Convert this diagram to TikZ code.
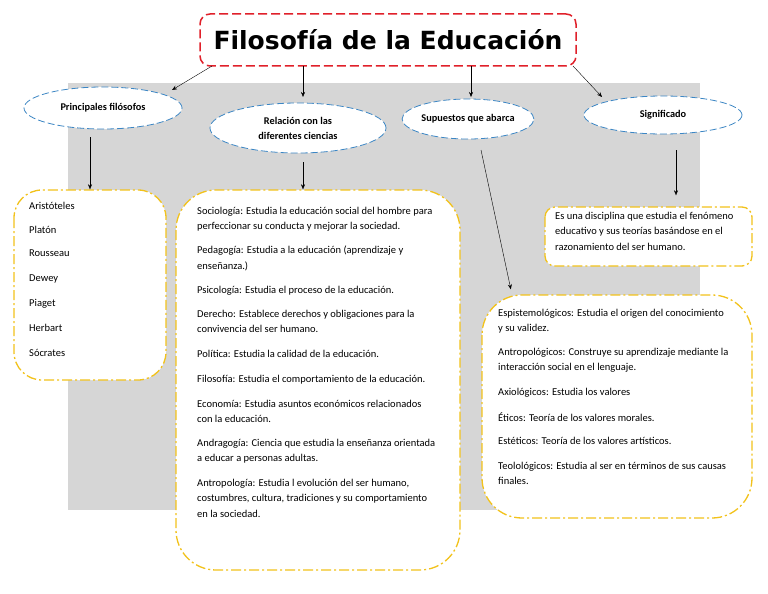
\documentclass[tikz,border=0pt]{standalone}
\usepackage{fontspec}
\setmainfont{Carlito}
\newfontfamily\titlefont{DejaVu Sans}
\usetikzlibrary{shapes.geometric,arrows.meta}
\definecolor{tred}{HTML}{E0202A}
\definecolor{eblue}{HTML}{3C86C4}
\definecolor{yel}{HTML}{F2C21B}
\definecolor{bg}{HTML}{D6D6D6}
\begin{document}
\begin{tikzpicture}[x=1pt,y=-1pt,
  ell/.style={ellipse,draw=eblue,thick,dash pattern=on 7pt off 3pt,fill=white,align=center,font=\fontsize{10.3}{15}\selectfont\bfseries,inner sep=0pt},
  ybox/.style={draw=yel,line width=1.3pt,dash pattern=on 10pt off 3pt on 2pt off 3pt,fill=white},
  txt/.style={anchor=north west,align=left,inner sep=0pt,font=\fontsize{10.5}{15.5}\selectfont},
  arr/.style={-{Stealth[length=5pt,width=4pt]},thin}]
\useasboundingbox (0,0) rectangle (768,594);
\fill[bg] (68,83) rectangle (700,510);
\node[draw=tred,line width=1.5pt,dash pattern=on 9pt off 4pt,rounded corners=10pt,fill=white,minimum width=376pt,minimum height=52pt,font=\titlefont\bfseries\fontsize{25}{28}\selectfont] (title) at (388,40) {Filosofía de la Educación};
\node[ell,minimum width=158pt,minimum height=42pt] (e1) at (103,108) {Principales filósofos};
\node[ell,minimum width=176pt,minimum height=50pt] (e2) at (298,128) {Relación con las\\diferentes ciencias};
\node[ell,minimum width=128pt,minimum height=40pt] (e3) at (468,119) {Supuestos que abarca};
\node[ell,minimum width=158pt,minimum height=38pt] (e4) at (663,115) {Significado};
\coordinate (t1) at (212,66); \coordinate (t1e) at (172,90);
\coordinate (t2) at (303,66); \coordinate (t2e) at (303,97);
\coordinate (t3) at (471,66); \coordinate (t3e) at (471,97);
\coordinate (t4) at (573,66); \coordinate (t4e) at (602,97);
\draw[arr] (t1) -- (t1e); \draw[arr] (t2) -- (t2e); \draw[arr] (t3) -- (t3e); \draw[arr] (t4) -- (t4e);
% boxes
\draw[ybox,rounded corners=28pt] (14,190) rectangle (166,380);
\node[inner sep=0pt] (b1) at (90,190) {};
\draw[ybox,rounded corners=40pt] (176,190) rectangle (460,570);
\node[inner sep=0pt] (b2) at (303,190) {};
\draw[ybox,rounded corners=10pt] (545,207) rectangle (752,266);
\node[inner sep=0pt] (b4) at (676,196) {};
\draw[ybox,rounded corners=40pt] (482,295) rectangle (752,518);
\node[inner sep=0pt] (b3) at (511,290) {};
\coordinate (s1) at (90,137); \coordinate (s2) at (303,162); \coordinate (s3) at (481,150); \coordinate (s4) at (676,150);
\draw[arr] (s1) -- (b1); \draw[arr] (s2) -- (b2); \draw[arr] (s3) -- (b3); \draw[arr] (s4) -- (b4);
% left
\foreach \n/\y/\t in {l1/202/Aristóteles,l2/226/Platón,l3/250/Rousseau,l4/275/Dewey,l5/299/Piaget,l6/324/Herbart,l7/349/Sócrates}
  \node[txt] (\n) at (29,\y) {\t};
% middle
\node[txt] (m1) at (197,207) {Sociología: Estudia la educación social del hombre para\\perfeccionar su conducta y mejorar la sociedad.};
\node[txt] (m2) at (197,246) {Pedagogía: Estudia a la educación (aprendizaje y\\enseñanza.)};
\node[txt] (m3) at (197,286) {Psicología: Estudia el proceso de la educación.};
\node[txt] (m4) at (197,310) {Derecho: Establece derechos y obligaciones para la\\convivencia del ser humano.};
\node[txt] (m5) at (197,350) {Política: Estudia la calidad de la educación.};
\node[txt] (m6) at (197,375) {Filosofía: Estudia el comportamiento de la educación.};
\node[txt] (m7) at (197,400) {Economía: Estudia asuntos económicos relacionados\\con la educación.};
\node[txt] (m8) at (197,439) {Andragogía: Ciencia que estudia la enseñanza orientada\\a educar a personas adultas.};
\node[txt] (m9) at (197,479) {Antropología: Estudia l evolución del ser humano,\\costumbres, cultura, tradiciones y su comportamiento\\en la sociedad.};
% significado
\node[txt] (g1) at (555,212) {Es una disciplina que estudia el fenómeno\\educativo y sus teorías basándose en el\\razonamiento del ser humano.};
% supuestos
\node[txt] (p1) at (498,309) {Espistemológicos: Estudia el origen del conocimiento\\y su validez.};
\node[txt] (p2) at (498,348) {Antropológicos: Construye su aprendizaje mediante la\\interacción social en el lenguaje.};
\node[txt] (p3) at (498,388) {Axiológicos: Estudia los valores};
\node[txt] (p4) at (498,413) {Éticos: Teoría de los valores morales.};
\node[txt] (p5) at (498,437) {Estéticos: Teoría de los valores artísticos.};
\node[txt] (p6) at (498,462) {Teolológicos: Estudia al ser en términos de sus causas\\finales.};
\end{tikzpicture}
\end{document}
